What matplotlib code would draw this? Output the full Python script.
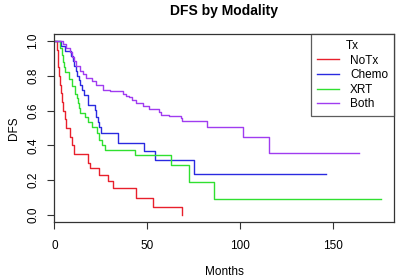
import matplotlib
matplotlib.use("Agg")
import matplotlib.pyplot as plt

# Kaplan-Meier step curves (time in months, survival)
notx_t = [0, 1.3, 1.7, 2.2, 2.6, 3.0, 3.5, 4.2, 4.9, 5.5, 6.5, 8.3, 9.5, 10.8,
          18.1, 19.4, 24.3, 28.8, 31.4, 44.0, 53.4, 68.6]
notx_s = [1.0, 0.95, 0.90, 0.85, 0.80, 0.75, 0.70, 0.65, 0.60, 0.55, 0.50, 0.45,
          0.40, 0.35, 0.30, 0.27, 0.233, 0.198, 0.155, 0.10, 0.047, 0.0]

chemo_t = [0, 3.5, 5.6, 9.0, 9.8, 10.6, 11.4, 12.2, 13.0, 13.8, 14.7, 16.0,
           18.1, 21.7, 22.6, 23.5, 24.3, 24.9, 34.1, 48.4, 54.1, 75.1, 146.4]
chemo_s = [1.0, 0.972, 0.944, 0.915, 0.887, 0.859, 0.83, 0.80, 0.774, 0.745,
           0.717, 0.69, 0.634, 0.605, 0.566, 0.537, 0.508, 0.473, 0.417, 0.366,
           0.318, 0.237, 0.237]

xrt_t = [0, 3.0, 4.0, 4.5, 5.2, 5.8, 7.6, 9.4, 11.1, 12.0, 12.9, 13.3, 13.8,
         16.5, 18.3, 20.1, 22.7, 24.0, 25.5, 27.0, 43.6, 63.0, 72.5, 86.2, 175.8]
xrt_s = [1.0, 0.96, 0.92, 0.88, 0.85, 0.82, 0.783, 0.744, 0.696, 0.67, 0.644,
         0.615, 0.585, 0.566, 0.537, 0.508, 0.469, 0.43, 0.40, 0.376, 0.345,
         0.285, 0.192, 0.091, 0.091]

both_t = [0, 4.7, 6.5, 8.3, 9.4, 10.4, 11.9, 13.6, 15.5, 17.2, 20.0, 22.6, 26.1,
          29.7, 36.8, 38.5, 40.4, 42.0, 44.0, 47.5, 51.1, 56.4, 57.3, 61.8, 68.0,
          68.9, 82.2, 101.4, 115.8, 164.0]
both_s = [1.0, 0.98, 0.96, 0.934, 0.907, 0.885, 0.856, 0.827, 0.81, 0.789, 0.77,
          0.75, 0.721, 0.711, 0.695, 0.685, 0.676, 0.66, 0.644, 0.628, 0.609,
          0.595, 0.576, 0.57, 0.56, 0.542, 0.508, 0.449, 0.356, 0.356]

groups = ["NoTx", "Chemo", "XRT", "Both"]
colors = ["#e8202c", "#2a2ae0", "#30e030", "#a03cf0"]

plt.rcParams["font.family"] = ["Liberation Sans", "DejaVu Sans"]

fig = plt.figure(figsize=(4.0, 2.79), dpi=100)
ax = fig.add_axes([0.136, 0.204, 0.849, 0.674])

curves = [(notx_t, notx_s), (chemo_t, chemo_s), (xrt_t, xrt_s), (both_t, both_s)]
for (t, s), name, c in zip(curves, groups, colors):
    ax.step(t, s, where="post", color=c, lw=1.0, label=name)

ax.set_xlim(0, 183)
ax.set_ylim(-0.04, 1.04)
ax.set_xticks([0, 50, 100, 150])
ax.set_yticks([0.0, 0.2, 0.4, 0.6, 0.8, 1.0])
ax.set_yticklabels(["0.0", "0.2", "0.4", "0.6", "0.8", "1.0"], rotation=90, va="center")
ax.tick_params(labelsize=8.5, length=5, width=0.8, color="#333333")
ax.tick_params(axis="x", pad=8)
ax.tick_params(axis="y", pad=6)
for sp in ax.spines.values():
    sp.set_color("#333333")
    sp.set_linewidth(0.9)

ax.set_title("DFS by Modality", fontsize=10, fontweight="bold", pad=14)
ax.set_xlabel("Months", fontsize=8.5)
ax.xaxis.set_label_coords(0.5, -0.266)
ax.xaxis.label.set_va("center")
ax.set_ylabel("DFS", fontsize=8.5)
ax.yaxis.set_label_coords(-0.118, 0.5)
ax.yaxis.label.set_va("center")

leg = ax.legend(title="Tx", loc="upper right", bbox_to_anchor=(1.0, 1.0),
                fontsize=8.5, title_fontsize=8.5, frameon=True, fancybox=False,
                borderaxespad=0, handlelength=1.9, handletextpad=0.9,
                labelspacing=0.22, borderpad=0.5)
leg.get_frame().set_edgecolor("#333333")
leg.get_frame().set_linewidth(0.9)

fig.savefig("out.png", dpi=100)
